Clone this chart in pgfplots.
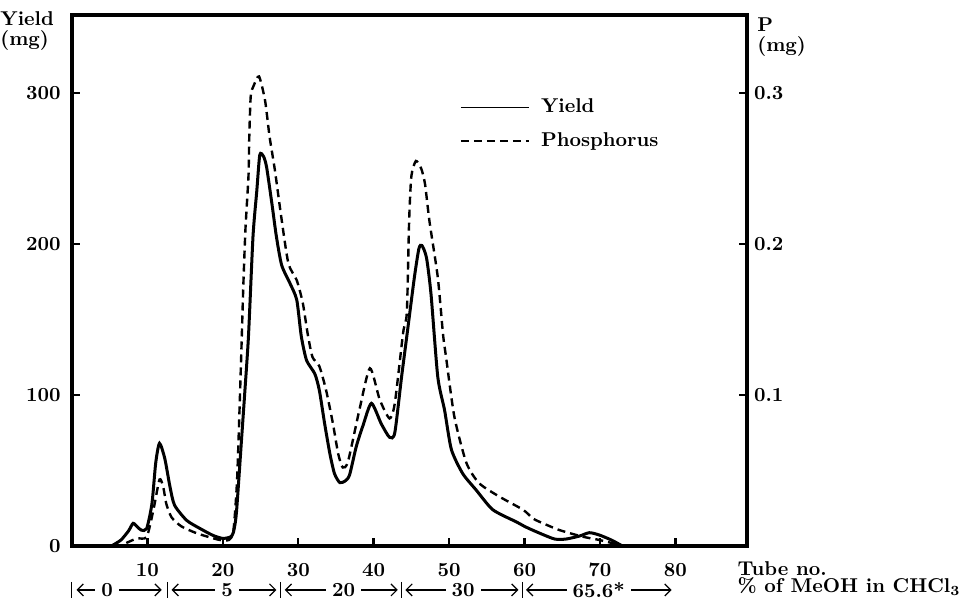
\documentclass[border=0pt]{standalone}
\usepackage{pgfplots}
\pgfplotsset{compat=1.18}
\usetikzlibrary{arrows.meta}

% yield (mg) per tube
\pgfplotstableread{
t y
5.4 0.5
6.5 4
7.5 10
8.1 15
8.7 12.5
9.2 10.5
9.9 11.5
10.6 28
11.1 55
11.6 68
12.3 58
13.0 39
13.6 27
15.2 17
17.0 11.5
18.7 7
20.0 5
21.0 6
21.4 9
21.8 22
22.5 72
22.9 101
23.4 139
24.0 205
24.5 235
24.9 259
25.4 258
25.8 251
26.5 227
27.1 205
27.8 186
28.9 174
29.8 163
30.4 139
31.1 123
32.2 114
32.8 103
33.5 81
34.2 61
34.8 48
35.5 42
36.2 43
36.8 47
37.7 66
38.6 80
39.7 94.5
41.0 81
42.1 72
42.8 75
43.7 112
44.5 143
45.4 178
46.0 197
46.4 199
47.0 191
47.6 167
48.5 112
49.4 90
50.3 64
51.8 48
53.6 37
55.8 24
58.9 16
60.2 12.5
62.0 8.5
64.0 4.6
65.5 4.6
67.3 6.6
68.6 8.8
69.9 7.3
71.5 4
72.8 0.5
}\yieldtab

% phosphorus (mg) per tube
\pgfplotstableread{
t p
7.2 0.002
8.6 0.005
9.9 0.006
10.8 0.024
11.6 0.044
12.1 0.039
12.5 0.028
13.2 0.019
14.5 0.013
16.5 0.0085
18.3 0.0057
19.6 0.004
20.8 0.004
21.4 0.010
21.9 0.045
22.4 0.120
22.7 0.170
23.0 0.210
23.4 0.245
23.5 0.270
23.7 0.298
24.1 0.305
24.8 0.311
25.6 0.295
26.2 0.271
26.9 0.249
27.8 0.216
28.7 0.187
29.8 0.176
30.6 0.161
31.3 0.139
31.9 0.125
32.8 0.119
33.7 0.103
34.6 0.081
35.3 0.061
35.9 0.052
36.6 0.056
38.1 0.090
39.5 0.1177
40.8 0.097
42.1 0.0845
42.8 0.0945
43.9 0.141
44.4 0.155
44.7 0.215
45.0 0.245
45.6 0.255
46.3 0.250
46.8 0.240
47.4 0.215
48.5 0.178
49.2 0.140
49.6 0.125
50.7 0.0856
52.3 0.055
54.0 0.0415
56.7 0.0326
59.8 0.024
61.1 0.0183
62.0 0.016
64.6 0.0106
67.7 0.0062
69.9 0.004
71.7 0.0018
72.6 0.0005
}\phostab

\tikzset{
  solvstep/.style={{Straight Barb[length=3pt]}-{Straight Barb[length=3pt]}, line width=0.6pt},
  solvlab/.style={fill=white, inner xsep=3pt, inner ysep=0.5pt},
}

\begin{document}
\begin{tikzpicture}[font=\fontsize{10}{11}\selectfont\bfseries]
\useasboundingbox (-36pt,-28.5pt) rectangle (444pt,273pt);
\pgfplotsset{
  frame/.style={
    at={(0,0)}, anchor=south west,
    scale only axis, width=337.5pt, height=265.5pt,
    xmin=0, xmax=89.5,
    axis line style={line width=2pt},
    tick align=inside, major tick length=4pt,
    tick style={line width=1.2pt, black},
    tick label style={font=\fontsize{10}{11}\selectfont\bfseries},
    /pgf/number format/assume math mode=true,
    clip=false,
  },
}
\begin{axis}[frame,
  ymin=0, ymax=351.7,
  xtick={10,20,...,80}, ytick={0,100,200,300},
  xtick pos=bottom, ytick pos=left,
  xticklabel style={yshift=-5.2pt},
  yticklabel style={xshift=-2.2pt},
  legend style={draw=none, fill=none, at={(rel axis cs:0.574,0.85)},
    anchor=north west, inner sep=0pt, row sep=4.5pt,
    font=\fontsize{10}{11}\selectfont\bfseries},
  legend cell align=left,
  legend image code/.code={\draw[#1] (0pt,0pt) -- (34pt,0pt); \path (37.5pt,0pt);},
]
\addlegendimage{line width=0.7pt}
\addlegendentry{Yield}
\addlegendimage{line width=1.1pt, dash pattern=on 4pt off 2.5pt}
\addlegendentry{Phosphorus}
\addplot[line width=1.5pt, smooth, tension=0.4, forget plot] table[x=t, y=y] {\yieldtab};

\node[anchor=north west, align=left, inner sep=0pt, font=\fontsize{10}{10}\selectfont\bfseries]
  at (rel axis cs:-0.1067,1.008) {Yield\\(mg)};
\node[anchor=west, inner sep=0pt] at (axis cs:88.2,-15.2) {Tube no.};
\node[anchor=west, inner sep=0pt] at (axis cs:88.2,-26.8) {\% of MeOH in CHCl\textsubscript{3}};

% solvent steps under the tube axis
\draw[line width=0.5pt] (axis cs:0,-23.8) -- (axis cs:0,-34.4);
\draw[line width=0.5pt] (axis cs:12.6,-23.8) -- (axis cs:12.6,-34.4);
\draw[line width=0.5pt] (axis cs:27.7,-23.8) -- (axis cs:27.7,-34.4);
\draw[line width=0.5pt] (axis cs:43.7,-23.8) -- (axis cs:43.7,-34.4);
\draw[line width=0.5pt] (axis cs:59.7,-23.8) -- (axis cs:59.7,-34.4);
\draw[solvstep] (axis cs:0.6,-29.1) -- (axis cs:11.9,-29.1) node[pos=0.36, solvlab] {0};
\draw[solvstep] (axis cs:13.2,-29.1) -- (axis cs:27.1,-29.1) node[pos=0.53, solvlab] {5};
\draw[solvstep] (axis cs:28.2,-29.1) -- (axis cs:43.2,-29.1) node[pos=0.52, solvlab] {20};
\draw[solvstep] (axis cs:44.2,-29.1) -- (axis cs:59.2,-29.1) node[pos=0.51, solvlab] {30};
\draw[solvstep] (axis cs:60.2,-29.1) -- (axis cs:79.5,-29.1) node[pos=0.5, solvlab] {65.6*};
\end{axis}

\begin{axis}[frame,
  ymin=0, ymax=0.3517,
  axis y line*=right, axis x line=none,
  ytick={0.1,0.2,0.3}, scaled y ticks=false,
  yticklabel style={/pgf/number format/fixed, /pgf/number format/precision=1},
]
\addplot[line width=1.2pt, dash pattern=on 4pt off 2.5pt, smooth, tension=0.4] table[x=t, y=p] {\phostab};
\node[anchor=north west, align=left, inner sep=0pt, font=\fontsize{10}{10}\selectfont\bfseries]
  at (rel axis cs:1.0148,0.995) {P\\(mg)};
\end{axis}
\end{tikzpicture}
\end{document}
